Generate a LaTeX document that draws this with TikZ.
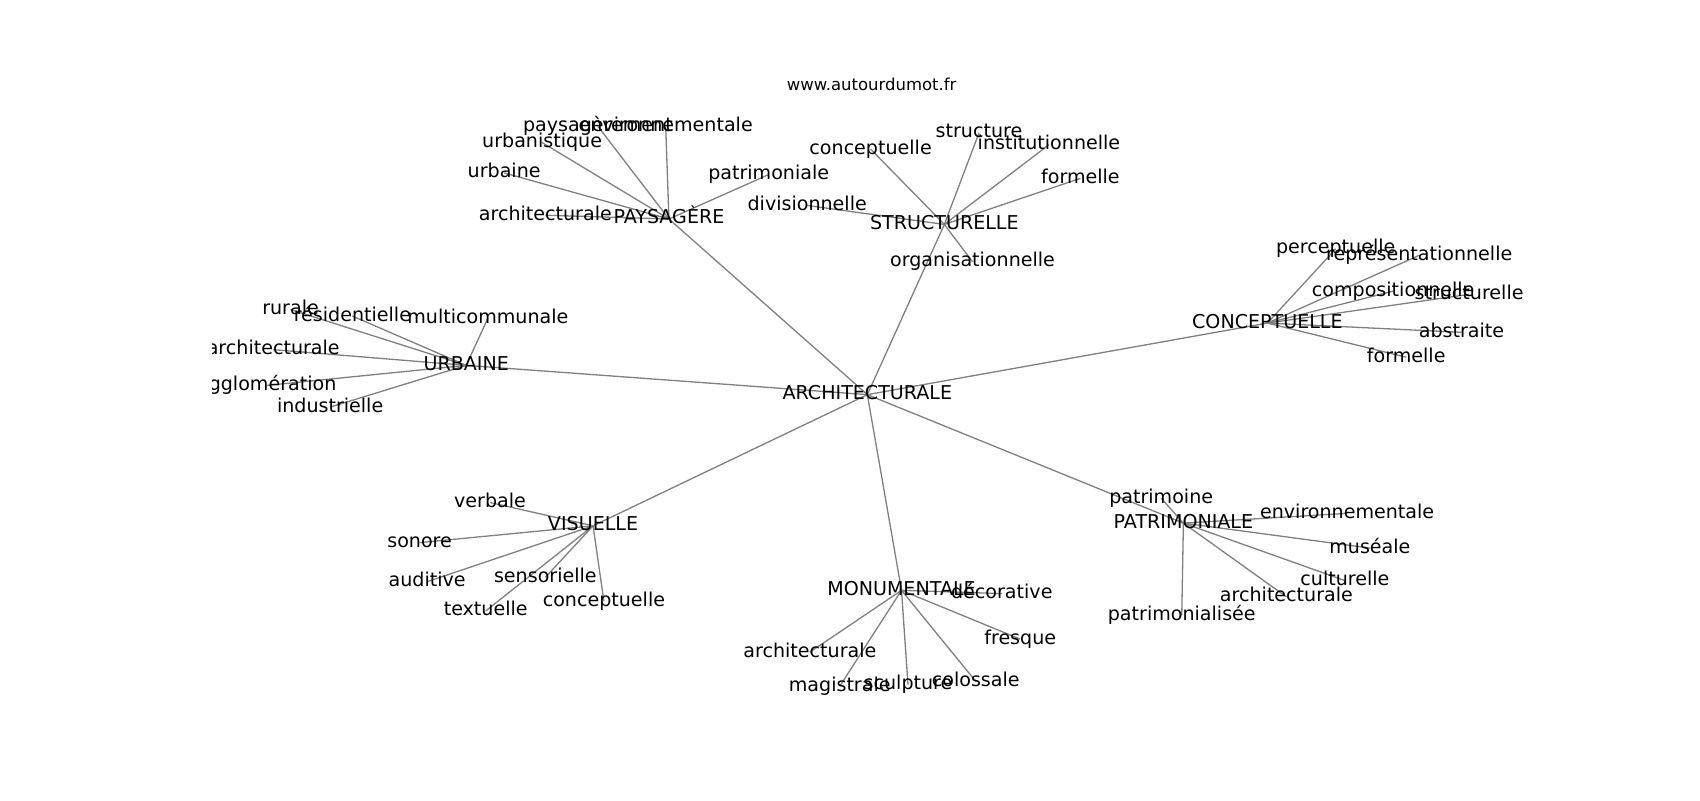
\documentclass[tikz,border=0pt]{standalone}
\usepackage{fontspec}
\setmainfont{DejaVu Sans}
\begin{document}
\begin{tikzpicture}[x=1pt,y=-1pt,
  lbl/.style={font=\fontsize{17.6}{20}\selectfont, inner sep=0pt, text height=13.4pt, text depth=4.2pt, anchor=center},
  ttl/.style={font=\fontsize{15.2}{18}\selectfont, inner sep=0pt, anchor=center},
  lnk/.style={draw=gray, line width=1.2pt}]
\useasboundingbox[fill=white] (0,0) rectangle (1568,737.9);
\node[ttl] (title) at (804,77.5) {www.autourdumot.fr};
% hubs
\coordinate (ARCH) at (800,364);
\coordinate (PAY) at (617,202);
\coordinate (STR) at (871,207);
\coordinate (CON) at (1169,298);
\coordinate (URB) at (430,337);
\coordinate (VIS) at (547,485);
\coordinate (MON) at (831.5,544.5);
\coordinate (PAT) at (1091.5,482.5);
% PAYSAGERE leaves
\coordinate (p1) at (551.5,116.5);
\coordinate (p2) at (614,116.5);
\coordinate (p3) at (500,131.5);
\coordinate (p4) at (465,159.5);
\coordinate (p5) at (709,161);
\coordinate (p6) at (503,198.5);
% STRUCTURELLE leaves
\coordinate (s1) at (803,137.5);
\coordinate (s2) at (903,122.5);
\coordinate (s3) at (967.5,133.5);
\coordinate (s4) at (996.5,164.5);
\coordinate (s5) at (744.5,189.5);
\coordinate (s6) at (897,241.5);
% CONCEPTUELLE leaves
\coordinate (c1) at (1232,229.5);
\coordinate (c2) at (1309,235.5);
\coordinate (c3) at (1285,268.5);
\coordinate (c4) at (1355,271.5);
\coordinate (c5) at (1348,306.5);
\coordinate (c6) at (1297,329.5);
% URBAINE leaves
\coordinate (u1) at (268,285.5);
\coordinate (u2) at (325,291.5);
\coordinate (u3) at (450,293.5);
\coordinate (u4) at (252,322.5);
\coordinate (u5) at (246,355.5);
\coordinate (u6) at (304.5,375.5);
% VISUELLE leaves
\coordinate (v1) at (452,463.5);
\coordinate (v2) at (387,500.5);
\coordinate (v3) at (394,536.5);
\coordinate (v4) at (503,532.5);
\coordinate (v5) at (448,563.5);
\coordinate (v6) at (557,554.5);
% MONUMENTALE leaves
\coordinate (m1) at (924,547.5);
\coordinate (m2) at (941,589.5);
\coordinate (m3) at (900,628.5);
\coordinate (m4) at (837.5,631.5);
\coordinate (m5) at (774.5,633);
\coordinate (m6) at (747,601.5);
% PATRIMONIALE leaves
\coordinate (t1) at (1071,459.5);
\coordinate (t2) at (1242.5,473.5);
\coordinate (t3) at (1263.5,505.5);
\coordinate (t4) at (1240.5,535.5);
\coordinate (t5) at (1186.5,550.5);
\coordinate (t6) at (1090,567.5);
\begin{scope}
\clip (196,88.6) rectangle (1411,657);
% edges
\foreach \h in {PAY,STR,CON,URB,VIS,MON,PAT} {\draw[lnk] (ARCH) -- (\h);}
\foreach \i in {1,...,6} {
  \draw[lnk] (PAY) -- (p\i);
  \draw[lnk] (STR) -- (s\i);
  \draw[lnk] (CON) -- (c\i);
  \draw[lnk] (URB) -- (u\i);
  \draw[lnk] (VIS) -- (v\i);
  \draw[lnk] (MON) -- (m\i);
  \draw[lnk] (PAT) -- (t\i);
}
% labels
\node[lbl] (nARCH) at (ARCH) {ARCHITECTURALE};
\node[lbl] (nPAY) at (PAY) {PAYSAGÈRE};
\node[lbl] (nSTR) at (STR) {STRUCTURELLE};
\node[lbl] (nCON) at (CON) {CONCEPTUELLE};
\node[lbl] (nURB) at (URB) {URBAINE};
\node[lbl] (nVIS) at (VIS) {VISUELLE};
\node[lbl] (nMON) at (MON) {MONUMENTALE};
\node[lbl] (nPAT) at (PAT) {PATRIMONIALE};
\node[lbl] (np1) at (p1) {paysagèrement};
\node[lbl] (np2) at (p2) {environnementale};
\node[lbl] (np3) at (p3) {urbanistique};
\node[lbl] (np4) at (p4) {urbaine};
\node[lbl] (np5) at (p5) {patrimoniale};
\node[lbl] (np6) at (p6) {architecturale};
\node[lbl] (ns1) at (s1) {conceptuelle};
\node[lbl] (ns2) at (s2) {structure};
\node[lbl] (ns3) at (s3) {institutionnelle};
\node[lbl] (ns4) at (s4) {formelle};
\node[lbl] (ns5) at (s5) {divisionnelle};
\node[lbl] (ns6) at (s6) {organisationnelle};
\node[lbl] (nc1) at (c1) {perceptuelle};
\node[lbl] (nc2) at (c2) {représentationnelle};
\node[lbl] (nc3) at (c3) {compositionnelle};
\node[lbl] (nc4) at (c4) {structurelle};
\node[lbl] (nc5) at (c5) {abstraite};
\node[lbl] (nc6) at (c6) {formelle};
\node[lbl] (nu1) at (u1) {rurale};
\node[lbl] (nu2) at (u2) {résidentielle};
\node[lbl] (nu3) at (u3) {multicommunale};
\node[lbl] (nu4) at (u4) {architecturale};
\node[lbl] (nu5) at (u5) {agglomération};
\node[lbl] (nu6) at (u6) {industrielle};
\node[lbl] (nv1) at (v1) {verbale};
\node[lbl] (nv2) at (v2) {sonore};
\node[lbl] (nv3) at (v3) {auditive};
\node[lbl] (nv4) at (v4) {sensorielle};
\node[lbl] (nv5) at (v5) {textuelle};
\node[lbl] (nv6) at (v6) {conceptuelle};
\node[lbl] (nm1) at (m1) {décorative};
\node[lbl] (nm2) at (m2) {fresque};
\node[lbl] (nm3) at (m3) {colossale};
\node[lbl] (nm4) at (m4) {sculpture};
\node[lbl] (nm5) at (m5) {magistrale};
\node[lbl] (nm6) at (m6) {architecturale};
\node[lbl] (nt1) at (t1) {patrimoine};
\node[lbl] (nt2) at (t2) {environnementale};
\node[lbl] (nt3) at (t3) {muséale};
\node[lbl] (nt4) at (t4) {culturelle};
\node[lbl] (nt5) at (t5) {architecturale};
\node[lbl] (nt6) at (t6) {patrimonialisée};
\end{scope}
\end{tikzpicture}
\end{document}
